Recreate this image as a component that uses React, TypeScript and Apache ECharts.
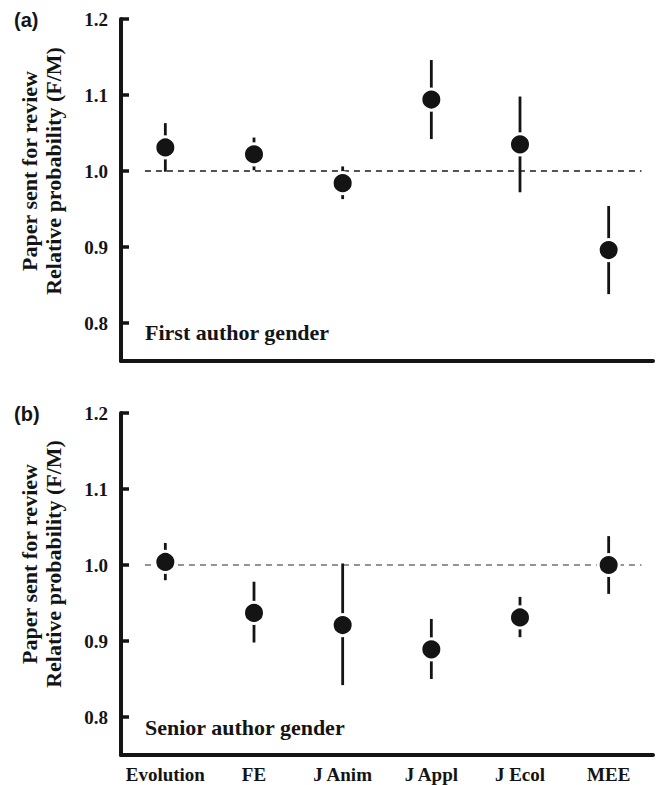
import React, { useEffect, useRef } from "react";
import * as echarts from "echarts";

const categories = ["Evolution", "FE", "J Anim", "J Appl", "J Ecol", "MEE"];
const yTicks = [0.8, 0.9, 1.0, 1.1, 1.2];

// Panel (a): first author gender
const firstEst = [1.031, 1.022, 0.984, 1.094, 1.035, 0.896];
const firstLo = [0.999, 1.001, 0.963, 1.042, 0.972, 0.838];
const firstHi = [1.063, 1.044, 1.006, 1.146, 1.098, 0.954];

// Panel (b): senior author gender
const seniorEst = [1.004, 0.937, 0.921, 0.889, 0.931, 1.0];
const seniorLo = [0.98, 0.898, 0.842, 0.85, 0.905, 0.962];
const seniorHi = [1.029, 0.978, 1.002, 0.929, 0.958, 1.038];

// Reference line (F/M = 1) and its horizontal extent in category units
const refValue = 1.0;
const refExtent = [-0.23, 5.37];

const SERIF = "Liberation Serif";
const SANS = "Liberation Sans";
const INK = "#141414";

export default function App() {
  const ref = useRef<HTMLDivElement>(null);

  useEffect(() => {
    if (!ref.current) return;
    const chart = echarts.init(ref.current, null, { renderer: "svg" });

    const grids = [
      { left: 121, top: 19, width: 532, height: 342 },
      { left: 121, top: 413, width: 532, height: 342 },
    ];

    const catAxis = (gridIndex: number, showLabels: boolean) => ({
      type: "category",
      gridIndex,
      data: categories,
      axisLine: { onZero: false, lineStyle: { color: INK, width: 4 } },
      axisTick: {
        alignWithLabel: true,
        inside: true,
        length: 8,
        interval: 0,
        lineStyle: { color: INK, width: 3.5 },
      },
      axisLabel: {
        show: showLabels,
        interval: 0,
        margin: 10,
        fontFamily: SERIF,
        fontWeight: "bold",
        fontSize: 19,
        color: INK,
      },
      splitLine: { show: false },
    });

    const hiddenX = (gridIndex: number) => ({
      type: "value",
      gridIndex,
      show: false,
      min: -0.5,
      max: 5.5,
    });

    const valAxis = (gridIndex: number) => ({
      type: "value",
      gridIndex,
      min: 0.75,
      max: 1.2,
      axisLine: { show: true, onZero: false, lineStyle: { color: INK, width: 4 } },
      axisTick: {
        show: true,
        inside: true,
        length: 8,
        customValues: yTicks,
        lineStyle: { color: INK, width: 3.5 },
      },
      axisLabel: {
        customValues: yTicks,
        formatter: (v: number) => v.toFixed(1),
        margin: 13,
        fontFamily: SERIF,
        fontWeight: "bold",
        fontSize: 19,
        color: INK,
      },
      splitLine: { show: false },
    });

    const errorSeries = (idx: number, lo: number[], hi: number[]) => ({
      type: "custom",
      xAxisIndex: idx,
      yAxisIndex: idx,
      z: 2,
      data: categories.map((_, i) => [i, lo[i], hi[i]]),
      encode: { x: 0, y: [1, 2] },
      renderItem: (params: any, api: any) => {
        const x = api.value(0);
        const p1 = api.coord([x, api.value(1)]);
        const p2 = api.coord([x, api.value(2)]);
        return {
          type: "line",
          shape: { x1: p1[0], y1: p1[1], x2: p2[0], y2: p2[1] },
          style: { stroke: INK, lineWidth: 2.8 },
        };
      },
    });

    const dotSeries = (idx: number, est: number[]) => ({
      type: "scatter",
      xAxisIndex: idx,
      yAxisIndex: idx,
      z: 4,
      symbol: "circle",
      symbolSize: 21,
      data: categories.map((c, i) => [c, est[i]]),
      itemStyle: { color: INK, borderColor: "#ffffff", borderWidth: 3, opacity: 1 },
    });

    const refSeries = (xIdx: number, yIdx: number, color: string) => ({
      type: "line",
      xAxisIndex: xIdx,
      yAxisIndex: yIdx,
      z: 1,
      symbol: "none",
      silent: true,
      data: refExtent.map((x) => [x, refValue]),
      lineStyle: { color, width: 1.5, type: [6, 5] },
    });

    const yName = (y: number) => ({
      type: "text",
      x: 41,
      y,
      rotation: Math.PI / 2,
      style: {
        text: "Paper sent for review\nRelative probability (F/M)",
        font: `bold 22px "${SERIF}"`,
        lineHeight: 24,
        fill: INK,
        align: "center",
        verticalAlign: "middle",
        textAlign: "center",
        textVerticalAlign: "middle",
      },
    });

    const note = (text: string, y: number) => ({
      type: "text",
      x: 145,
      y,
      style: {
        text,
        font: `bold 22px "${SERIF}"`,
        fill: INK,
        align: "left",
        verticalAlign: "middle",
        textAlign: "left",
        textVerticalAlign: "middle",
      },
    });

    const panel = (text: string, y: number) => ({
      type: "text",
      x: 14,
      y,
      style: {
        text,
        font: `bold 20px "${SANS}"`,
        fill: INK,
        align: "left",
        verticalAlign: "middle",
        textAlign: "left",
        textVerticalAlign: "middle",
      },
    });

    chart.setOption({
      animation: false,
      backgroundColor: "#ffffff",
      grid: grids,
      xAxis: [catAxis(0, false), catAxis(1, true), hiddenX(0), hiddenX(1)],
      yAxis: [valAxis(0), valAxis(1)],
      series: [
        refSeries(2, 0, "#1a1a1a"),
        refSeries(3, 1, "#707070"),
        errorSeries(0, firstLo, firstHi),
        errorSeries(1, seniorLo, seniorHi),
        dotSeries(0, firstEst),
        dotSeries(1, seniorEst),
      ],
      graphic: [
        yName(171),
        yName(564),
        note("First author gender", 332),
        note("Senior author gender", 727),
        panel("(a)", 20),
        panel("(b)", 414),
      ],
    });

    return () => chart.dispose();
  }, []);

  return (
    <div
      ref={ref}
      style={{ position: "fixed", left: 0, top: 0, width: 656, height: 785, background: "#fff" }}
    />
  );
}
